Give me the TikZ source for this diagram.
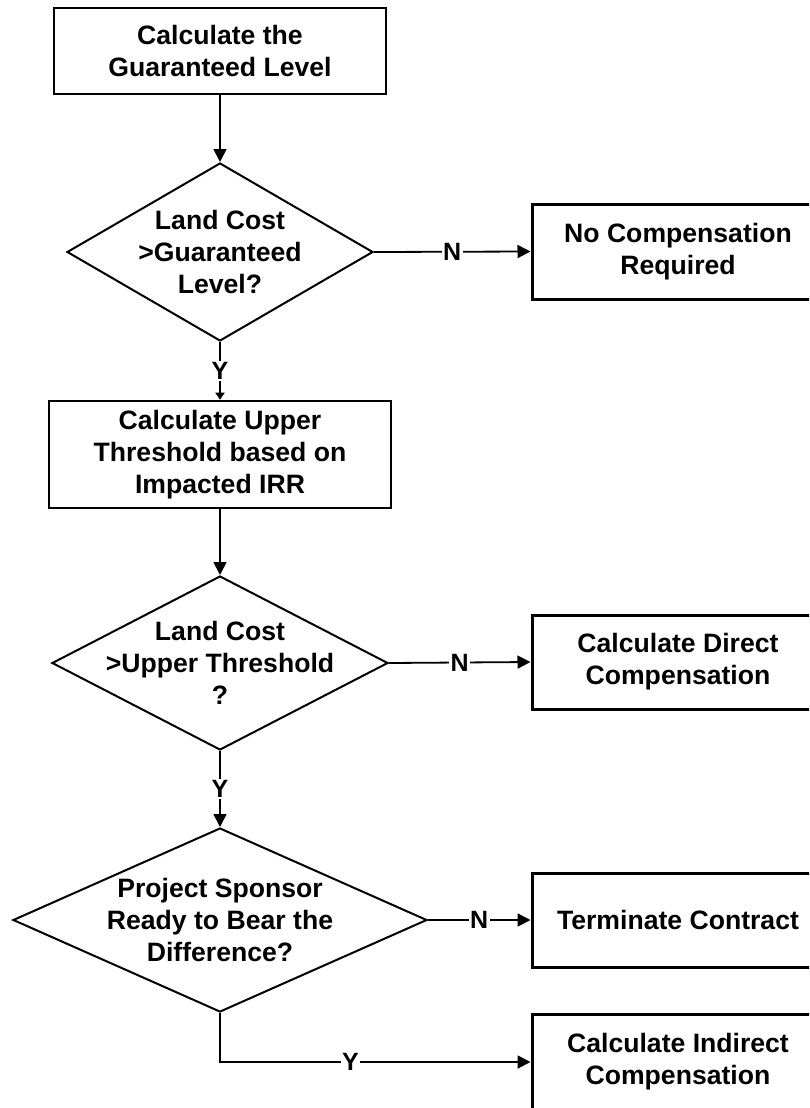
\documentclass[tikz,border=0pt]{standalone}
\usepackage{fontspec}
\setmainfont{Liberation Sans}
\usetikzlibrary{shapes.geometric,arrows.meta}
\begin{document}
\begin{tikzpicture}[x=1pt,y=-1pt,
  txt/.style={align=center,font=\fontsize{26.6}{32}\selectfont\bfseries,inner sep=0pt},
  box/.style={txt,draw,line width=2.6pt,rectangle},
  rbox/.style={box,line width=3pt,minimum width=292pt},
  dia/.style={diamond,draw,line width=2pt,inner sep=0pt},
  lbl/.style={fill=white,inner sep=1.5pt,font=\fontsize{25}{25}\selectfont\bfseries},
  arr/.style={line width=1.8pt,-{Triangle[length=13pt,width=13pt]}},
  sarr/.style={line width=1.8pt,-{Triangle[length=7pt,width=9pt]}}]
\useasboundingbox (0,0) rectangle (809,1108);
\clip (0,0) rectangle (809,1108);
% main column
\node[box,minimum width=332pt,minimum height=86pt] (b1) at (220,51) {Calculate the\\Guaranteed Level};
\node[dia,minimum width=306pt,minimum height=178pt,
  label={[txt,name=d1t]center:Land Cost\\>Guaranteed\\Level?}] (d1) at (220,252) {};
\node[box,minimum width=342pt,minimum height=107pt] (b2) at (220,454.5) {Calculate Upper\\Threshold based on\\Impacted IRR};
\node[dia,minimum width=336pt,minimum height=174pt,
  label={[txt,name=d2t]center:Land Cost\\>Upper Threshold\\?}] (d2) at (220,663) {};
\node[dia,minimum width=414pt,minimum height=184pt,
  label={[txt,name=d3t]center:Project Sponsor\\Ready to Bear the\\Difference?}] (d3) at (220,920) {};
% right column
\node[rbox,minimum height=95pt] (r1) at (678,251.5) {No Compensation\\Required};
\node[rbox,minimum height=94pt] (r2) at (678,662) {Calculate Direct\\Compensation};
\node[rbox,minimum height=94pt] (r3) at (678,920) {Terminate Contract};
\node[rbox,minimum height=96pt] (r4) at (678,1062) {Calculate Indirect\\Compensation};
% connectors
\draw[arr] (b1.south) -- (d1.north);
\draw[sarr] (d1.south) -- node[lbl] (y1) {Y} (b2.north);
\draw[arr] (b2.south) -- (d2.north);
\draw[arr] (d2.south) -- node[lbl] (y2) {Y} (d3.north);
\draw[arr] (d1.east) -- node[lbl] (n1) {N} (r1.west);
\draw[arr] (d2.east) -- node[lbl] (n2) {N} (r2.west);
\draw[arr] (d3.east) -- node[lbl] (n3) {N} (r3.west);
\draw[arr] (d3.south) |- node[lbl,pos=0.71] (y3) {Y} (r4.west);
\end{tikzpicture}
\end{document}
